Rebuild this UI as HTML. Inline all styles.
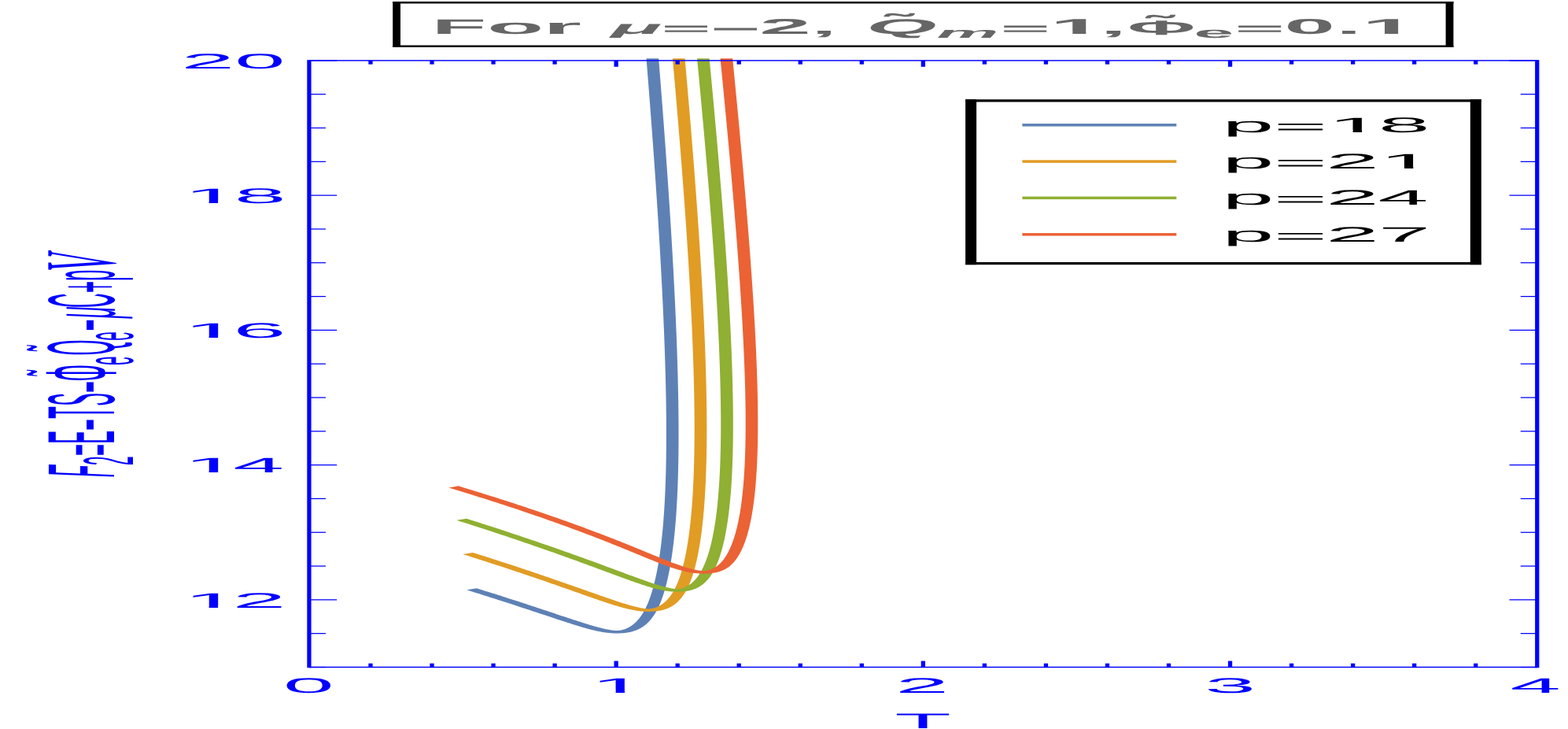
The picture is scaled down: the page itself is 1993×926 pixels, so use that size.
<!DOCTYPE html>
<html lang="en">
<head>
<meta charset="utf-8">
<title>Free energy versus temperature</title>
<style>
html,body{margin:0;padding:0;background:#ffffff;}
body{width:1993px;height:926px;overflow:hidden;}
svg{display:block;}
text{white-space:pre;}
</style>
</head>
<body>
<svg width="1993" height="926" viewBox="0 0 1993 926">
<defs><clipPath id="plotclip"><rect x="372.95" y="74.3" width="1600.8" height="776.18"/></clipPath></defs>
<rect width="1993" height="926" fill="#ffffff"/>
<g clip-path="url(#plotclip)"><g transform="scale(4.457,1)" stroke="none" fill-rule="nonzero">
<path fill="#5e81b5" d="M133.106 749.33L133.982 750.54L134.845 751.73L135.694 752.92L136.531 754.09L137.356 755.24L138.168 756.39L138.968 757.51L139.755 758.63L140.531 759.73L141.294 760.82L142.046 761.89L142.786 762.95L143.514 764L144.232 765.04L144.937 766.06L145.632 767.06L146.315 768.05L146.988 769.03L147.65 770L148.301 770.95L148.941 771.89L149.572 772.81L150.191 773.73L150.801 774.62L151.401 775.51L151.99 776.38L152.57 777.24L153.141 778.08L153.701 778.91L154.253 779.73L154.795 780.53L155.328 781.32L155.851 782.09L156.366 782.86L156.873 783.61L157.37 784.34L157.859 785.06L158.34 785.77L158.812 786.47L159.277 787.15L159.733 787.82L160.182 788.47L160.622 789.11L161.056 789.74L161.482 790.36L161.9 790.96L162.312 791.55L162.716 792.12L163.113 792.68L163.504 793.23L163.889 793.77L164.266 794.29L164.638 794.8L165.003 795.29L165.363 795.77L165.717 796.24L166.065 796.7L166.408 797.14L166.745 797.57L167.077 797.99L167.405 798.39L167.728 798.79L168.046 799.17L168.36 799.53L168.67 799.89L168.976 800.23L169.279 800.55L169.578 800.87L169.875 801.17L170.169 801.47L170.46 801.74L170.75 802.01L171.038 802.27L171.326 802.51L171.612 802.74L171.899 802.95L172.186 803.16L172.474 803.35L172.764 803.53L173.055 803.7L173.35 803.85L173.648 803.99L173.949 804.11L174.255 804.22L174.564 804.32L174.878 804.39L175.196 804.45L175.516 804.48L175.838 804.5L176.161 804.49L176.483 804.47L176.803 804.42L177.118 804.35L177.428 804.26L177.732 804.15L178.028 804.02L178.315 803.88L178.593 803.71L178.862 803.53L179.123 803.34L179.374 803.13L179.617 802.91L179.853 802.68L180.081 802.43L180.302 802.17L180.516 801.9L180.725 801.62L180.929 801.33L181.127 801.03L181.32 800.71L181.51 800.38L181.695 800.04L181.876 799.69L182.054 799.33L182.229 798.95L182.4 798.56L182.569 798.17L182.735 797.75L182.898 797.33L183.059 796.89L183.217 796.44L183.373 795.98L183.526 795.51L183.678 795.02L183.827 794.52L183.974 794.01L184.12 793.49L184.263 792.95L184.405 792.4L184.544 791.83L184.682 791.26L184.819 790.67L184.953 790.06L185.086 789.45L185.217 788.82L185.346 788.17L185.474 787.52L185.601 786.85L185.726 786.17L185.849 785.47L185.971 784.76L186.091 784.04L186.21 783.31L186.328 782.56L186.444 781.79L186.558 781.02L186.672 780.23L186.784 779.43L186.894 778.61L187.004 777.78L187.112 776.94L187.219 776.08L187.324 775.21L187.428 774.33L187.531 773.44L187.633 772.53L187.734 771.6L187.833 770.66L187.932 769.71L188.029 768.75L188.125 767.77L188.22 766.78L188.314 765.78L188.406 764.76L188.498 763.73L188.589 762.68L188.678 761.62L188.767 760.55L188.854 759.47L188.941 758.37L189.026 757.25L189.111 756.13L189.194 754.99L189.277 753.83L189.358 752.66L189.439 751.48L189.519 750.29L189.598 749.08L189.676 747.86L189.753 746.62L189.83 745.38L189.905 744.11L189.98 742.84L190.054 741.55L190.127 740.24L190.199 738.93L190.271 737.6L190.341 736.25L190.411 734.9L190.48 733.52L190.548 732.14L190.615 730.74L190.682 729.33L190.748 727.9L190.813 726.46L190.877 725.01L190.94 723.54L191.002 722.06L191.064 720.57L191.125 719.06L191.185 717.54L191.244 716L191.303 714.46L191.361 712.89L191.417 711.32L191.474 709.73L191.529 708.13L191.583 706.51L191.637 704.88L191.69 703.23L191.742 701.58L191.794 699.91L191.844 698.22L191.894 696.52L191.943 694.81L191.991 693.08L192.039 691.34L192.085 689.59L192.131 687.82L192.176 686.04L192.221 684.25L192.264 682.44L192.307 680.62L192.349 678.79L192.391 676.94L192.431 675.07L192.471 673.2L192.51 671.31L192.548 669.41L192.586 667.49L192.622 665.56L192.658 663.61L192.693 661.66L192.728 659.68L192.762 657.7L192.795 655.7L192.827 653.69L192.858 651.66L192.889 649.62L192.919 647.57L192.948 645.5L192.977 643.42L193.004 641.33L193.031 639.22L193.058 637.1L193.083 634.96L193.108 632.81L193.132 630.65L193.155 628.47L193.178 626.28L193.2 624.08L193.221 621.86L193.241 619.63L193.261 617.39L193.28 615.13L193.298 612.86L193.315 610.57L193.332 608.27L193.348 605.96L193.364 603.63L193.378 601.29L193.392 598.94L193.405 596.57L193.418 594.19L193.429 591.8L193.44 589.39L193.451 586.96L193.46 584.53L193.469 582.08L193.478 579.62L193.485 577.14L193.492 574.65L193.498 572.15L193.503 569.63L193.508 567.1L193.512 564.55L193.515 561.99L193.518 559.42L193.52 556.83L193.521 554.23L193.522 551.62L193.521 548.99L193.521 546.35L193.519 543.7L193.517 541.03L193.514 538.35L193.51 535.65L193.506 532.95L193.501 530.22L193.496 527.49L193.489 524.74L193.482 521.97L193.475 519.2L193.466 516.41L193.457 513.6L193.448 510.78L193.437 507.95L193.426 505.11L193.415 502.25L193.402 499.37L193.389 496.49L193.376 493.59L193.361 490.67L193.346 487.75L193.331 484.8L193.314 481.85L193.297 478.88L193.28 475.9L193.262 472.9L193.243 469.89L193.223 466.87L193.203 463.83L193.182 460.78L193.161 457.72L193.138 454.64L193.116 451.55L193.092 448.45L193.068 445.33L193.043 442.19L193.018 439.05L192.992 435.89L192.965 432.72L192.938 429.53L192.91 426.33L192.882 423.11L192.853 419.89L192.823 416.64L192.792 413.39L192.761 410.12L192.73 406.84L192.697 403.54L192.664 400.23L192.631 396.91L192.597 393.57L192.562 390.22L192.527 386.85L192.491 383.48L192.454 380.08L192.417 376.68L192.379 373.26L192.34 369.83L192.301 366.38L192.262 362.92L192.221 359.45L192.18 355.96L192.139 352.46L192.097 348.94L192.054 345.41L192.011 341.87L191.967 338.32L191.923 334.75L191.878 331.16L191.832 327.57L191.786 323.96L191.739 320.33L191.691 316.69L191.643 313.04L191.595 309.38L191.545 305.7L191.496 302.01L191.445 298.3L191.394 294.58L191.343 290.85L191.291 287.1L191.238 283.34L191.185 279.56L191.131 275.78L191.076 271.97L191.021 268.16L190.966 264.33L190.91 260.49L190.853 256.63L190.796 252.76L190.738 248.88L190.679 244.98L190.62 241.07L190.561 237.14L190.501 233.2L190.44 229.25L190.379 225.29L190.317 221.31L190.255 217.31L190.192 213.31L190.129 209.29L190.065 205.25L190 201.21L189.935 197.14L189.869 193.07L189.803 188.98L189.737 184.88L189.669 180.76L189.602 176.63L189.533 172.49L189.464 168.33L189.395 164.16L189.325 159.98L189.254 155.78L189.183 151.57L189.112 147.34L189.04 143.1L188.967 138.85L188.894 134.59L188.82 130.31L188.746 126.01L188.671 121.7L188.596 117.38L188.52 113.05L188.444 108.7L188.367 104.34L188.29 99.96L188.212 95.57L188.134 91.17L188.055 86.75L187.976 82.32L187.896 77.88L187.815 73.42L187.734 68.95L187.653 64.47L187.571 59.97L184.072 60.03L184.154 64.53L184.235 69.01L184.316 73.49L184.396 77.94L184.476 82.39L184.556 86.82L184.634 91.23L184.713 95.64L184.791 100.03L184.868 104.4L184.945 108.76L185.021 113.11L185.097 117.44L185.172 121.77L185.247 126.07L185.321 130.37L185.395 134.65L185.468 138.91L185.54 143.16L185.612 147.4L185.684 151.63L185.755 155.84L185.825 160.04L185.895 164.22L185.965 168.39L186.034 172.55L186.102 176.69L186.17 180.82L186.237 184.94L186.304 189.04L186.37 193.13L186.436 197.2L186.501 201.26L186.565 205.31L186.629 209.34L186.693 213.36L186.755 217.37L186.818 221.36L186.879 225.34L186.941 229.31L187.001 233.26L187.061 237.2L187.121 241.12L187.18 245.03L187.238 248.93L187.296 252.81L187.353 256.68L187.41 260.54L187.466 264.38L187.522 268.21L187.577 272.02L187.631 275.83L187.685 279.61L187.738 283.39L187.791 287.15L187.843 290.89L187.895 294.63L187.946 298.35L187.996 302.05L188.046 305.74L188.095 309.42L188.144 313.09L188.192 316.74L188.239 320.38L188.286 324L188.332 327.61L188.378 331.21L188.423 334.79L188.467 338.36L188.511 341.91L188.554 345.46L188.597 348.98L188.639 352.5L188.681 356L188.722 359.49L188.762 362.96L188.802 366.42L188.841 369.87L188.879 373.3L188.917 376.72L188.954 380.12L188.991 383.51L189.027 386.89L189.062 390.26L189.097 393.61L189.131 396.94L189.165 400.27L189.197 403.58L189.23 406.87L189.261 410.15L189.292 413.42L189.323 416.68L189.353 419.92L189.382 423.14L189.41 426.36L189.438 429.56L189.465 432.74L189.492 435.92L189.518 439.08L189.543 442.22L189.568 445.35L189.592 448.47L189.616 451.58L189.638 454.67L189.661 457.74L189.682 460.81L189.703 463.86L189.723 466.89L189.743 469.92L189.762 472.92L189.78 475.92L189.798 478.9L189.814 481.87L189.831 484.82L189.846 487.76L189.861 490.69L189.876 493.6L189.889 496.5L189.902 499.39L189.915 502.26L189.926 505.12L189.937 507.96L189.948 510.8L189.957 513.61L189.966 516.42L189.975 519.21L189.982 521.98L189.989 524.75L189.996 527.49L190.001 530.23L190.006 532.95L190.01 535.66L190.014 538.35L190.017 541.03L190.019 543.7L190.021 546.36L190.021 549L190.022 551.62L190.021 554.23L190.02 556.83L190.018 559.42L190.015 561.99L190.012 564.55L190.008 567.09L190.003 569.62L189.998 572.14L189.992 574.64L189.985 577.13L189.978 579.61L189.969 582.07L189.96 584.52L189.951 586.95L189.94 589.37L189.929 591.78L189.918 594.17L189.905 596.55L189.892 598.92L189.878 601.27L189.864 603.61L189.848 605.94L189.832 608.25L189.816 610.55L189.798 612.83L189.78 615.1L189.761 617.36L189.741 619.6L189.721 621.83L189.7 624.05L189.678 626.25L189.655 628.44L189.632 630.61L189.608 632.77L189.583 634.92L189.558 637.05L189.532 639.17L189.505 641.28L189.477 643.37L189.448 645.45L189.419 647.52L189.389 649.57L189.359 651.61L189.327 653.63L189.295 655.64L189.262 657.64L189.228 659.62L189.194 661.59L189.159 663.55L189.123 665.49L189.086 667.42L189.049 669.34L189.011 671.24L188.972 673.13L188.932 675L188.891 676.86L188.85 678.71L188.808 680.54L188.765 682.36L188.722 684.16L188.678 685.96L188.632 687.73L188.587 689.5L188.54 691.25L188.493 692.99L188.444 694.71L188.395 696.42L188.346 698.12L188.295 699.8L188.244 701.47L188.192 703.12L188.139 704.76L188.085 706.39L188.031 708.01L187.976 709.61L187.92 711.19L187.863 712.77L187.805 714.33L187.747 715.87L187.688 717.4L187.628 718.92L187.567 720.43L187.505 721.92L187.443 723.39L187.38 724.86L187.316 726.31L187.251 727.74L187.186 729.17L187.119 730.57L187.052 731.97L186.984 733.35L186.915 734.72L186.846 736.07L186.775 737.41L186.704 738.74L186.632 740.05L186.559 741.35L186.486 742.64L186.411 743.91L186.336 745.16L186.26 746.41L186.183 747.64L186.105 748.86L186.027 750.06L185.947 751.25L185.867 752.42L185.785 753.59L185.703 754.73L185.62 755.87L185.536 756.99L185.451 758.09L185.365 759.19L185.278 760.27L185.19 761.33L185.101 762.38L185.011 763.42L184.92 764.45L184.828 765.46L184.735 766.45L184.641 767.43L184.546 768.4L184.45 769.36L184.352 770.3L184.254 771.23L184.154 772.14L184.054 773.04L183.952 773.93L183.849 774.8L183.745 775.66L183.639 776.5L183.533 777.33L183.425 778.15L183.316 778.95L183.206 779.74L183.095 780.51L182.982 781.28L182.869 782.02L182.754 782.76L182.637 783.47L182.52 784.18L182.401 784.87L182.281 785.55L182.16 786.21L182.037 786.86L181.913 787.49L181.788 788.11L181.662 788.72L181.534 789.31L181.405 789.89L181.275 790.46L181.144 791.01L181.011 791.54L180.877 792.06L180.742 792.57L180.606 793.06L180.468 793.54L180.33 794L180.19 794.45L180.05 794.88L179.908 795.3L179.766 795.71L179.622 796.1L179.478 796.47L179.333 796.83L179.188 797.18L179.042 797.51L178.896 797.82L178.749 798.12L178.603 798.4L178.457 798.67L178.312 798.92L178.167 799.16L178.023 799.38L177.881 799.58L177.741 799.77L177.602 799.95L177.467 800.1L177.335 800.25L177.206 800.38L177.082 800.49L176.962 800.59L176.847 800.67L176.737 800.75L176.632 800.81L176.532 800.86L176.437 800.9L176.346 800.93L176.257 800.96L176.17 800.98L176.082 800.99L175.993 801L175.901 801L175.804 800.99L175.701 800.98L175.59 800.96L175.471 800.93L175.342 800.9L175.204 800.85L175.056 800.79L174.898 800.71L174.731 800.63L174.555 800.53L174.37 800.41L174.177 800.28L173.975 800.14L173.766 799.98L173.549 799.8L173.325 799.62L173.093 799.41L172.855 799.19L172.61 798.96L172.359 798.71L172.101 798.44L171.836 798.17L171.565 797.87L171.288 797.56L171.005 797.24L170.715 796.9L170.418 796.55L170.116 796.18L169.807 795.8L169.491 795.4L169.169 794.99L168.841 794.57L168.506 794.13L168.164 793.67L167.815 793.21L167.46 792.72L167.097 792.23L166.728 791.72L166.351 791.19L165.967 790.65L165.576 790.1L165.177 789.54L164.77 788.95L164.357 788.36L163.935 787.75L163.505 787.13L163.068 786.49L162.622 785.84L162.168 785.18L161.706 784.5L161.235 783.81L160.756 783.1L160.268 782.38L159.772 781.64L159.266 780.9L158.752 780.14L158.228 779.36L157.696 778.57L157.153 777.77L156.602 776.95L156.041 776.12L155.47 775.27L154.889 774.42L154.298 773.54L153.697 772.66L153.086 771.76L152.465 770.84L151.833 769.92L151.191 768.98L150.538 768.02L149.874 767.05L149.199 766.07L148.514 765.08L147.817 764.07L147.108 763.04L146.389 762L145.658 760.95L144.915 759.89L144.16 758.81L143.394 757.72L142.616 756.61L141.825 755.49L141.022 754.36L140.207 753.21L139.379 752.05L138.539 750.88L137.686 749.69L136.82 748.49L135.942 747.27Z"/>
<path fill="#e19c24" d="M131.962 703.92L132.976 705.34L133.975 706.74L134.961 708.14L135.932 709.51L136.89 710.88L137.834 712.23L138.765 713.56L139.683 714.88L140.587 716.19L141.478 717.48L142.357 718.76L143.222 720.03L144.075 721.28L144.915 722.51L145.743 723.74L146.558 724.94L147.361 726.14L148.152 727.32L148.931 728.48L149.699 729.64L150.454 730.77L151.198 731.9L151.93 733.01L152.651 734.1L153.361 735.18L154.059 736.25L154.747 737.31L155.423 738.34L156.089 739.37L156.745 740.38L157.389 741.38L158.024 742.36L158.648 743.33L159.262 744.28L159.865 745.22L160.459 746.15L161.044 747.06L161.618 747.96L162.183 748.85L162.739 749.72L163.285 750.57L163.822 751.42L164.35 752.24L164.869 753.06L165.38 753.86L165.881 754.65L166.374 755.42L166.859 756.18L167.336 756.92L167.804 757.65L168.264 758.37L168.717 759.07L169.161 759.76L169.598 760.44L170.028 761.1L170.45 761.74L170.865 762.38L171.273 763L171.674 763.6L172.068 764.2L172.455 764.77L172.836 765.34L173.21 765.89L173.579 766.43L173.941 766.95L174.297 767.46L174.647 767.96L174.992 768.44L175.331 768.91L175.665 769.37L175.994 769.81L176.318 770.24L176.637 770.65L176.952 771.05L177.262 771.44L177.568 771.82L177.87 772.18L178.169 772.53L178.464 772.87L178.756 773.19L179.046 773.51L179.333 773.8L179.618 774.09L179.901 774.36L180.183 774.62L180.464 774.87L180.744 775.11L181.026 775.33L181.307 775.54L181.591 775.74L181.876 775.92L182.164 776.09L182.456 776.25L182.751 776.39L183.051 776.52L183.356 776.63L183.666 776.72L183.981 776.8L184.3 776.85L184.622 776.89L184.947 776.9L185.272 776.89L185.596 776.86L185.916 776.8L186.232 776.72L186.541 776.62L186.842 776.5L187.134 776.36L187.417 776.21L187.69 776.03L187.953 775.84L188.207 775.64L188.451 775.42L188.687 775.19L188.915 774.94L189.135 774.68L189.349 774.42L189.556 774.14L189.758 773.84L189.954 773.54L190.146 773.22L190.333 772.89L190.515 772.55L190.694 772.2L190.869 771.84L191.041 771.46L191.21 771.07L191.376 770.67L191.539 770.25L191.699 769.83L191.857 769.39L192.012 768.93L192.165 768.47L192.316 767.99L192.465 767.5L192.611 766.99L192.756 766.47L192.898 765.94L193.039 765.39L193.177 764.84L193.314 764.26L193.449 763.68L193.582 763.08L193.714 762.47L193.844 761.84L193.972 761.2L194.099 760.54L194.224 759.88L194.347 759.2L194.469 758.5L194.589 757.79L194.708 757.07L194.825 756.33L194.941 755.58L195.056 754.82L195.169 754.04L195.28 753.25L195.39 752.44L195.499 751.63L195.607 750.79L195.713 749.94L195.818 749.08L195.921 748.21L196.024 747.32L196.124 746.42L196.224 745.5L196.323 744.57L196.42 743.62L196.516 742.66L196.611 741.69L196.704 740.7L196.797 739.7L196.888 738.69L196.978 737.66L197.067 736.62L197.155 735.56L197.242 734.49L197.328 733.4L197.413 732.3L197.496 731.19L197.579 730.06L197.66 728.92L197.741 727.77L197.82 726.6L197.899 725.41L197.977 724.22L198.053 723.01L198.129 721.78L198.203 720.54L198.277 719.29L198.35 718.02L198.422 716.74L198.493 715.44L198.563 714.13L198.632 712.81L198.701 711.47L198.768 710.12L198.835 708.75L198.901 707.37L198.966 705.97L199.03 704.56L199.094 703.14L199.156 701.7L199.218 700.25L199.279 698.79L199.339 697.31L199.398 695.81L199.457 694.31L199.514 692.79L199.571 691.25L199.627 689.7L199.682 688.14L199.736 686.56L199.789 684.96L199.842 683.36L199.894 681.74L199.945 680.1L199.995 678.45L200.044 676.79L200.093 675.11L200.14 673.42L200.187 671.72L200.233 670L200.278 668.26L200.323 666.52L200.366 664.75L200.409 662.98L200.451 661.19L200.492 659.38L200.533 657.57L200.572 655.73L200.611 653.89L200.649 652.03L200.686 650.15L200.723 648.26L200.758 646.36L200.793 644.44L200.827 642.51L200.86 640.56L200.893 638.6L200.924 636.63L200.955 634.64L200.985 632.64L201.014 630.62L201.043 628.59L201.07 626.55L201.097 624.49L201.123 622.42L201.149 620.33L201.173 618.23L201.197 616.11L201.22 613.98L201.242 611.84L201.263 609.68L201.284 607.51L201.304 605.33L201.323 603.13L201.341 600.91L201.359 598.68L201.376 596.44L201.392 594.18L201.407 591.91L201.421 589.63L201.435 587.33L201.448 585.02L201.46 582.69L201.471 580.35L201.482 577.99L201.492 575.62L201.501 573.24L201.509 570.84L201.517 568.43L201.524 566L201.53 563.56L201.535 561.11L201.54 558.64L201.544 556.15L201.547 553.66L201.549 551.15L201.551 548.62L201.552 546.08L201.552 543.53L201.551 540.96L201.55 538.38L201.548 535.78L201.545 533.17L201.541 530.55L201.537 527.91L201.532 525.26L201.526 522.59L201.519 519.91L201.512 517.21L201.504 514.5L201.495 511.78L201.486 509.04L201.476 506.29L201.465 503.53L201.453 500.75L201.441 497.95L201.428 495.14L201.414 492.32L201.399 489.48L201.384 486.63L201.368 483.77L201.351 480.89L201.334 478L201.316 475.09L201.297 472.17L201.277 469.23L201.257 466.28L201.236 463.32L201.214 460.34L201.192 457.35L201.169 454.34L201.145 451.32L201.121 448.29L201.095 445.24L201.069 442.18L201.043 439.1L201.015 436.01L200.987 432.9L200.959 429.78L200.929 426.65L200.899 423.5L200.868 420.34L200.837 417.17L200.804 413.98L200.771 410.77L200.738 407.55L200.704 404.32L200.669 401.07L200.633 397.81L200.596 394.54L200.559 391.25L200.522 387.95L200.483 384.63L200.444 381.3L200.404 377.95L200.364 374.59L200.323 371.22L200.281 367.83L200.239 364.43L200.195 361.01L200.152 357.58L200.107 354.13L200.062 350.68L200.016 347.2L199.969 343.72L199.922 340.21L199.874 336.7L199.826 333.17L199.777 329.62L199.727 326.07L199.676 322.49L199.625 318.91L199.573 315.31L199.521 311.69L199.468 308.07L199.414 304.42L199.359 300.77L199.304 297.09L199.248 293.41L199.192 289.71L199.135 286L199.077 282.27L199.019 278.53L198.96 274.77L198.9 271L198.84 267.22L198.779 263.42L198.717 259.61L198.655 255.78L198.592 251.94L198.529 248.08L198.464 244.21L198.4 240.33L198.334 236.43L198.268 232.52L198.201 228.6L198.134 224.66L198.066 220.7L197.997 216.73L197.928 212.75L197.858 208.75L197.788 204.74L197.717 200.72L197.645 196.68L197.573 192.63L197.5 188.56L197.426 184.48L197.352 180.38L197.277 176.27L197.201 172.15L197.125 168.01L197.049 163.86L196.971 159.69L196.893 155.51L196.815 151.32L196.736 147.11L196.656 142.89L196.576 138.65L196.495 134.4L196.413 130.13L196.331 125.85L196.248 121.56L196.165 117.25L196.081 112.93L195.996 108.59L195.911 104.24L195.825 99.88L195.739 95.5L195.652 91.11L195.564 86.7L195.476 82.28L195.387 77.85L195.298 73.4L195.208 68.93L195.117 64.46L195.026 59.96L191.527 60.04L191.618 64.53L191.708 69L191.798 73.47L191.888 77.92L191.976 82.35L192.065 86.77L192.152 91.18L192.239 95.57L192.326 99.95L192.411 104.31L192.497 108.66L192.581 113L192.665 117.32L192.749 121.63L192.831 125.92L192.914 130.2L192.995 134.47L193.076 138.72L193.157 142.95L193.236 147.18L193.315 151.38L193.394 155.58L193.472 159.76L193.549 163.92L193.626 168.08L193.702 172.21L193.777 176.34L193.852 180.45L193.927 184.54L194 188.62L194.073 192.69L194.145 196.74L194.217 200.78L194.288 204.81L194.359 208.82L194.429 212.81L194.498 216.79L194.566 220.76L194.634 224.72L194.702 228.66L194.769 232.58L194.835 236.49L194.9 240.39L194.965 244.27L195.029 248.14L195.093 252L195.155 255.84L195.218 259.66L195.279 263.47L195.34 267.27L195.401 271.06L195.46 274.83L195.519 278.58L195.578 282.32L195.635 286.05L195.692 289.76L195.749 293.46L195.805 297.15L195.86 300.82L195.914 304.47L195.968 308.12L196.021 311.74L196.074 315.36L196.125 318.96L196.177 322.54L196.227 326.12L196.277 329.67L196.326 333.22L196.375 336.75L196.423 340.26L196.47 343.76L196.516 347.25L196.562 350.72L196.607 354.18L196.652 357.62L196.696 361.05L196.739 364.47L196.781 367.87L196.823 371.26L196.864 374.63L196.905 377.99L196.944 381.34L196.984 384.67L197.022 387.99L197.06 391.29L197.097 394.58L197.133 397.85L197.169 401.11L197.204 404.36L197.238 407.59L197.272 410.81L197.305 414.01L197.337 417.2L197.368 420.38L197.399 423.54L197.429 426.68L197.459 429.82L197.487 432.94L197.515 436.04L197.543 439.13L197.569 442.21L197.595 445.27L197.621 448.32L197.645 451.35L197.669 454.37L197.692 457.38L197.715 460.37L197.736 463.34L197.757 466.31L197.777 469.26L197.797 472.19L197.816 475.11L197.834 478.02L197.851 480.91L197.868 483.79L197.884 486.65L197.899 489.5L197.914 492.34L197.928 495.16L197.941 497.97L197.953 500.76L197.965 503.54L197.976 506.3L197.986 509.06L197.995 511.79L198.004 514.51L198.012 517.22L198.02 519.92L198.026 522.6L198.032 525.26L198.037 527.91L198.041 530.55L198.045 533.18L198.048 535.78L198.05 538.38L198.051 540.96L198.052 543.53L198.052 546.08L198.051 548.62L198.049 551.14L198.047 553.65L198.044 556.15L198.04 558.63L198.035 561.1L198.03 563.55L198.024 565.99L198.017 568.42L198.009 570.83L198.001 573.22L197.992 575.61L197.982 577.98L197.971 580.33L197.96 582.67L197.948 585L197.935 587.31L197.921 589.61L197.907 591.89L197.892 594.16L197.876 596.41L197.859 598.66L197.841 600.88L197.823 603.1L197.804 605.29L197.784 607.48L197.764 609.65L197.742 611.81L197.72 613.95L197.697 616.08L197.673 618.19L197.649 620.29L197.624 622.37L197.597 624.44L197.571 626.5L197.543 628.54L197.515 630.57L197.485 632.59L197.455 634.59L197.425 636.57L197.393 638.55L197.361 640.5L197.327 642.45L197.294 644.38L197.259 646.29L197.223 648.19L197.187 650.08L197.15 651.95L197.112 653.81L197.073 655.66L197.034 657.49L196.993 659.31L196.952 661.11L196.91 662.9L196.867 664.67L196.824 666.43L196.78 668.17L196.734 669.91L196.688 671.62L196.642 673.33L196.594 675.01L196.546 676.69L196.496 678.35L196.446 680L196.395 681.63L196.344 683.25L196.291 684.85L196.238 686.44L196.184 688.01L196.129 689.57L196.073 691.12L196.017 692.65L195.959 694.17L195.901 695.68L195.842 697.17L195.782 698.64L195.721 700.11L195.66 701.55L195.597 702.99L195.534 704.41L195.47 705.81L195.405 707.2L195.339 708.58L195.273 709.94L195.205 711.29L195.137 712.63L195.068 713.95L194.998 715.25L194.927 716.54L194.856 717.82L194.783 719.08L194.71 720.33L194.635 721.57L194.56 722.79L194.484 723.99L194.406 725.19L194.328 726.36L194.249 727.53L194.169 728.68L194.088 729.81L194.006 730.93L193.923 732.04L193.839 733.13L193.753 734.21L193.667 735.27L193.58 736.32L193.491 737.36L193.402 738.38L193.311 739.39L193.22 740.38L193.127 741.36L193.033 742.32L192.938 743.27L192.842 744.21L192.744 745.13L192.646 746.03L192.546 746.93L192.445 747.8L192.343 748.67L192.239 749.52L192.135 750.35L192.029 751.17L191.922 751.98L191.813 752.77L191.704 753.55L191.593 754.31L191.481 755.06L191.368 755.79L191.253 756.51L191.137 757.22L191.02 757.91L190.901 758.58L190.781 759.24L190.66 759.89L190.538 760.52L190.414 761.14L190.289 761.74L190.163 762.33L190.035 762.9L189.907 763.46L189.777 764.01L189.645 764.54L189.513 765.05L189.379 765.55L189.244 766.03L189.108 766.5L188.971 766.96L188.833 767.4L188.694 767.82L188.554 768.23L188.413 768.62L188.272 769L188.129 769.36L187.986 769.71L187.843 770.04L187.7 770.35L187.556 770.65L187.413 770.93L187.269 771.2L187.127 771.45L186.985 771.68L186.845 771.9L186.707 772.1L186.57 772.29L186.437 772.46L186.306 772.61L186.179 772.74L186.057 772.86L185.939 772.97L185.827 773.06L185.72 773.14L185.619 773.2L185.525 773.26L185.436 773.3L185.352 773.33L185.272 773.36L185.194 773.38L185.118 773.39L185.041 773.4L184.961 773.4L184.876 773.4L184.785 773.39L184.686 773.37L184.579 773.34L184.461 773.31L184.333 773.26L184.194 773.2L184.046 773.13L183.887 773.05L183.719 772.95L183.541 772.83L183.355 772.7L183.16 772.56L182.958 772.4L182.747 772.22L182.53 772.03L182.305 771.82L182.073 771.6L181.835 771.36L181.59 771.1L181.338 770.83L181.081 770.55L180.817 770.24L180.547 769.93L180.27 769.6L179.988 769.25L179.699 768.89L179.404 768.51L179.103 768.12L178.795 767.71L178.482 767.29L178.161 766.85L177.835 766.4L177.501 765.93L177.161 765.45L176.815 764.95L176.462 764.44L176.101 763.92L175.734 763.38L175.36 762.82L174.979 762.25L174.59 761.67L174.194 761.07L173.791 760.46L173.38 759.83L172.961 759.19L172.535 758.53L172.101 757.86L171.659 757.18L171.208 756.48L170.75 755.76L170.283 755.03L169.808 754.29L169.324 753.53L168.832 752.76L168.331 751.98L167.82 751.18L167.301 750.36L166.773 749.53L166.236 748.69L165.689 747.83L165.133 746.96L164.567 746.08L163.992 745.18L163.407 744.26L162.811 743.33L162.206 742.39L161.591 741.43L160.965 740.46L160.329 739.48L159.683 738.48L159.025 737.46L158.358 736.44L157.679 735.39L156.989 734.34L156.288 733.27L155.576 732.18L154.853 731.08L154.118 729.97L153.371 728.84L152.613 727.7L151.843 726.54L151.061 725.37L150.267 724.19L149.461 722.99L148.643 721.78L147.812 720.55L146.968 719.31L146.112 718.05L145.244 716.78L144.362 715.5L143.467 714.2L142.559 712.89L141.638 711.56L140.704 710.22L139.756 708.87L138.794 707.5L137.819 706.12L136.83 704.72L135.827 703.31L134.811 701.88Z"/>
<path fill="#8fb032" d="M130.218 660.81L131.362 662.42L132.489 664.02L133.601 665.6L134.699 667.17L135.782 668.72L136.85 670.26L137.904 671.78L138.944 673.29L139.969 674.79L140.98 676.27L141.978 677.73L142.961 679.18L143.931 680.62L144.887 682.04L145.83 683.45L146.759 684.84L147.675 686.22L148.578 687.58L149.468 688.93L150.345 690.26L151.209 691.58L152.06 692.89L152.899 694.18L153.726 695.45L154.54 696.71L155.342 697.96L156.132 699.19L156.91 700.41L157.677 701.61L158.431 702.8L159.174 703.98L159.906 705.14L160.626 706.28L161.335 707.41L162.033 708.53L162.72 709.63L163.396 710.72L164.061 711.79L164.716 712.85L165.36 713.89L165.994 714.92L166.617 715.94L167.231 716.94L167.834 717.92L168.428 718.89L169.011 719.85L169.585 720.79L170.15 721.72L170.705 722.63L171.251 723.53L171.788 724.42L172.315 725.29L172.834 726.14L173.344 726.99L173.846 727.81L174.338 728.63L174.823 729.42L175.299 730.21L175.767 730.98L176.226 731.73L176.678 732.47L177.122 733.2L177.559 733.91L177.988 734.61L178.409 735.29L178.824 735.96L179.231 736.62L179.631 737.26L180.024 737.88L180.41 738.49L180.79 739.09L181.164 739.68L181.531 740.25L181.892 740.8L182.246 741.34L182.595 741.87L182.939 742.38L183.276 742.88L183.609 743.37L183.936 743.84L184.258 744.3L184.575 744.74L184.887 745.17L185.195 745.59L185.498 745.99L185.798 746.38L186.093 746.76L186.385 747.12L186.674 747.47L186.959 747.81L187.242 748.13L187.522 748.44L187.8 748.73L188.077 749.02L188.352 749.29L188.626 749.55L188.9 749.79L189.175 750.02L189.45 750.24L189.727 750.45L190.007 750.64L190.289 750.82L190.575 750.99L190.866 751.14L191.162 751.28L191.463 751.39L191.771 751.5L192.084 751.58L192.403 751.64L192.725 751.68L193.051 751.7L193.378 751.69L193.704 751.66L194.027 751.61L194.344 751.53L194.654 751.43L194.956 751.31L195.247 751.16L195.529 751L195.799 750.82L196.059 750.63L196.309 750.42L196.55 750.2L196.781 749.96L197.004 749.71L197.22 749.45L197.429 749.18L197.631 748.89L197.828 748.6L198.019 748.29L198.205 747.96L198.388 747.63L198.566 747.28L198.74 746.93L198.911 746.55L199.078 746.17L199.243 745.77L199.405 745.36L199.563 744.94L199.72 744.51L199.874 744.06L200.025 743.59L200.175 743.12L200.322 742.63L200.467 742.13L200.61 741.61L200.751 741.08L200.89 740.53L201.028 739.98L201.163 739.41L201.297 738.82L201.429 738.22L201.559 737.61L201.688 736.98L201.815 736.34L201.941 735.68L202.065 735.01L202.187 734.33L202.308 733.63L202.428 732.92L202.546 732.19L202.662 731.45L202.777 730.7L202.891 729.93L203.003 729.14L203.114 728.35L203.224 727.54L203.332 726.71L203.439 725.87L203.545 725.01L203.649 724.14L203.753 723.26L203.855 722.36L203.955 721.45L204.055 720.52L204.153 719.58L204.25 718.63L204.346 717.66L204.441 716.67L204.535 715.67L204.627 714.66L204.718 713.63L204.809 712.59L204.898 711.54L204.986 710.46L205.073 709.38L205.159 708.28L205.244 707.17L205.328 706.04L205.411 704.89L205.494 703.74L205.575 702.56L205.655 701.38L205.734 700.18L205.812 698.96L205.889 697.73L205.965 696.48L206.04 695.23L206.115 693.95L206.188 692.66L206.26 691.36L206.331 690.04L206.402 688.71L206.471 687.37L206.54 686L206.607 684.63L206.674 683.24L206.739 681.84L206.804 680.42L206.867 678.98L206.93 677.53L206.992 676.07L207.053 674.6L207.113 673.1L207.172 671.6L207.23 670.08L207.287 668.54L207.343 666.99L207.398 665.43L207.452 663.85L207.506 662.26L207.558 660.65L207.61 659.03L207.66 657.39L207.71 655.74L207.759 654.07L207.806 652.39L207.853 650.7L207.899 648.99L207.944 647.26L207.988 645.52L208.032 643.77L208.074 642L208.115 640.22L208.156 638.42L208.196 636.61L208.234 634.78L208.272 632.94L208.309 631.09L208.345 629.22L208.38 627.34L208.414 625.44L208.448 623.52L208.48 621.6L208.512 619.65L208.542 617.7L208.572 615.72L208.601 613.74L208.629 611.74L208.656 609.72L208.683 607.69L208.708 605.65L208.732 603.59L208.756 601.52L208.779 599.43L208.801 597.33L208.822 595.21L208.842 593.08L208.861 590.93L208.88 588.77L208.897 586.59L208.914 584.4L208.93 582.2L208.945 579.98L208.959 577.75L208.972 575.5L208.985 573.24L208.997 570.96L209.007 568.67L209.017 566.36L209.026 564.04L209.035 561.7L209.042 559.35L209.049 556.99L209.054 554.61L209.059 552.22L209.063 549.81L209.066 547.39L209.069 544.95L209.07 542.5L209.071 540.03L209.071 537.55L209.07 535.05L209.068 532.54L209.066 530.02L209.062 527.48L209.058 524.93L209.053 522.36L209.047 519.77L209.041 517.18L209.033 514.56L209.025 511.94L209.016 509.3L209.006 506.64L208.995 503.97L208.984 501.29L208.972 498.59L208.958 495.87L208.945 493.14L208.93 490.4L208.914 487.64L208.898 484.87L208.881 482.08L208.863 479.28L208.845 476.47L208.825 473.64L208.805 470.79L208.784 467.93L208.762 465.06L208.74 462.17L208.717 459.26L208.692 456.35L208.668 453.41L208.642 450.47L208.616 447.5L208.588 444.53L208.561 441.54L208.532 438.53L208.502 435.51L208.472 432.48L208.441 429.43L208.409 426.37L208.377 423.29L208.344 420.19L208.31 417.09L208.275 413.97L208.239 410.83L208.203 407.68L208.166 404.51L208.128 401.33L208.09 398.14L208.051 394.93L208.011 391.7L207.97 388.47L207.928 385.21L207.886 381.95L207.843 378.66L207.8 375.37L207.755 372.06L207.71 368.73L207.664 365.39L207.618 362.03L207.57 358.66L207.522 355.28L207.474 351.88L207.424 348.47L207.374 345.04L207.323 341.6L207.272 338.14L207.219 334.67L207.166 331.18L207.113 327.68L207.058 324.17L207.003 320.64L206.947 317.1L206.891 313.54L206.833 309.96L206.775 306.37L206.717 302.77L206.657 299.16L206.597 295.52L206.537 291.88L206.475 288.22L206.413 284.54L206.35 280.85L206.287 277.15L206.223 273.43L206.158 269.69L206.092 265.95L206.026 262.18L205.959 258.41L205.892 254.61L205.824 250.81L205.755 246.99L205.685 243.15L205.615 239.3L205.544 235.44L205.472 231.56L205.4 227.66L205.327 223.75L205.254 219.83L205.18 215.89L205.105 211.94L205.029 207.97L204.953 203.99L204.876 200L204.799 195.99L204.721 191.96L204.642 187.92L204.562 183.87L204.482 179.8L204.402 175.72L204.32 171.62L204.238 167.51L204.156 163.38L204.072 159.24L203.989 155.08L203.904 150.91L203.819 146.73L203.733 142.53L203.647 138.31L203.56 134.08L203.472 129.84L203.384 125.58L203.295 121.31L203.205 117.02L203.115 112.72L203.024 108.4L202.933 104.07L202.841 99.73L202.749 95.37L202.655 90.99L202.562 86.6L202.467 82.2L202.372 77.78L202.277 73.35L202.18 68.9L202.084 64.44L201.986 59.96L198.487 60.04L198.584 64.51L198.681 68.98L198.777 73.42L198.873 77.86L198.968 82.27L199.062 86.68L199.156 91.07L199.249 95.44L199.342 99.8L199.434 104.15L199.525 108.48L199.616 112.79L199.706 117.09L199.796 121.38L199.884 125.65L199.973 129.91L200.06 134.15L200.147 138.38L200.234 142.6L200.32 146.8L200.405 150.98L200.489 155.15L200.573 159.31L200.656 163.45L200.739 167.58L200.821 171.69L200.902 175.79L200.983 179.87L201.063 183.94L201.142 187.99L201.221 192.03L201.299 196.05L201.377 200.06L201.454 204.06L201.53 208.04L201.605 212.01L201.68 215.96L201.754 219.9L201.828 223.82L201.901 227.73L201.973 231.62L202.045 235.5L202.116 239.36L202.186 243.21L202.255 247.05L202.324 250.87L202.392 254.68L202.46 258.47L202.527 262.24L202.593 266.01L202.658 269.75L202.723 273.49L202.787 277.21L202.851 280.91L202.914 284.6L202.976 288.28L203.037 291.94L203.098 295.58L203.158 299.21L203.217 302.83L203.276 306.43L203.334 310.02L203.391 313.59L203.448 317.15L203.503 320.69L203.559 324.22L203.613 327.74L203.667 331.24L203.72 334.72L203.772 338.19L203.824 341.65L203.875 345.09L203.925 348.52L203.974 351.93L204.023 355.33L204.071 358.71L204.118 362.08L204.165 365.44L204.211 368.78L204.256 372.1L204.3 375.41L204.344 378.71L204.387 381.99L204.429 385.26L204.47 388.51L204.511 391.75L204.551 394.97L204.59 398.18L204.629 401.37L204.666 404.55L204.703 407.72L204.74 410.87L204.775 414L204.81 417.13L204.844 420.23L204.877 423.32L204.91 426.4L204.941 429.46L204.972 432.51L205.003 435.55L205.032 438.57L205.061 441.57L205.089 444.56L205.116 447.54L205.142 450.5L205.168 453.44L205.193 456.38L205.217 459.29L205.24 462.19L205.263 465.08L205.284 467.96L205.305 470.82L205.325 473.66L205.345 476.49L205.363 479.3L205.381 482.11L205.398 484.89L205.415 487.66L205.43 490.42L205.445 493.16L205.459 495.89L205.472 498.6L205.484 501.3L205.495 503.98L205.506 506.65L205.516 509.31L205.525 511.95L205.533 514.58L205.541 517.19L205.547 519.78L205.553 522.36L205.558 524.93L205.562 527.48L205.566 530.02L205.568 532.55L205.57 535.06L205.571 537.55L205.571 540.03L205.57 542.5L205.569 544.95L205.566 547.38L205.563 549.8L205.559 552.21L205.554 554.6L205.549 556.98L205.542 559.34L205.535 561.69L205.526 564.03L205.517 566.35L205.507 568.65L205.497 570.94L205.485 573.22L205.473 575.48L205.459 577.73L205.445 579.96L205.43 582.18L205.414 584.38L205.397 586.57L205.38 588.74L205.361 590.9L205.342 593.04L205.322 595.17L205.301 597.29L205.279 599.39L205.256 601.48L205.233 603.55L205.208 605.61L205.183 607.65L205.157 609.68L205.129 611.69L205.101 613.69L205.073 615.67L205.043 617.64L205.012 619.6L204.981 621.54L204.948 623.46L204.915 625.37L204.881 627.27L204.846 629.15L204.81 631.02L204.773 632.87L204.735 634.71L204.696 636.54L204.657 638.34L204.616 640.14L204.575 641.92L204.533 643.68L204.489 645.44L204.445 647.17L204.4 648.89L204.355 650.6L204.308 652.29L204.26 653.97L204.211 655.63L204.162 657.28L204.111 658.92L204.06 660.54L204.008 662.14L203.954 663.73L203.9 665.31L203.845 666.87L203.789 668.41L203.732 669.95L203.674 671.46L203.615 672.97L203.556 674.45L203.495 675.93L203.433 677.39L203.371 678.83L203.307 680.26L203.243 681.67L203.177 683.07L203.111 684.46L203.044 685.83L202.976 687.19L202.907 688.53L202.836 689.86L202.765 691.17L202.693 692.47L202.62 693.75L202.546 695.02L202.472 696.27L202.396 697.51L202.319 698.74L202.241 699.95L202.162 701.14L202.083 702.32L202.002 703.49L201.92 704.64L201.838 705.78L201.754 706.9L201.67 708.01L201.584 709.1L201.498 710.18L201.41 711.24L201.322 712.29L201.232 713.33L201.141 714.35L201.049 715.35L200.957 716.34L200.863 717.32L200.768 718.28L200.671 719.22L200.574 720.16L200.476 721.07L200.376 721.97L200.276 722.86L200.174 723.73L200.071 724.59L199.967 725.43L199.861 726.26L199.755 727.07L199.647 727.87L199.538 728.66L199.428 729.42L199.316 730.18L199.203 730.92L199.089 731.64L198.974 732.35L198.858 733.04L198.74 733.72L198.621 734.39L198.501 735.03L198.38 735.67L198.257 736.29L198.133 736.89L198.008 737.48L197.882 738.05L197.754 738.61L197.625 739.16L197.496 739.68L197.364 740.2L197.232 740.69L197.099 741.17L196.964 741.64L196.829 742.09L196.692 742.53L196.555 742.94L196.417 743.35L196.278 743.74L196.138 744.11L195.998 744.46L195.858 744.8L195.717 745.12L195.576 745.43L195.435 745.72L195.294 745.99L195.155 746.25L195.016 746.49L194.878 746.71L194.743 746.92L194.609 747.1L194.478 747.28L194.351 747.43L194.228 747.57L194.109 747.69L193.995 747.79L193.888 747.88L193.787 747.96L193.693 748.02L193.605 748.07L193.525 748.11L193.45 748.14L193.38 748.16L193.313 748.18L193.248 748.19L193.183 748.2L193.114 748.2L193.04 748.2L192.959 748.19L192.869 748.17L192.769 748.14L192.659 748.1L192.537 748.06L192.405 748L192.261 747.92L192.107 747.83L191.943 747.73L191.77 747.61L191.588 747.47L191.397 747.32L191.198 747.15L190.992 746.97L190.779 746.77L190.558 746.55L190.331 746.32L190.097 746.07L189.856 745.8L189.609 745.52L189.356 745.22L189.097 744.91L188.832 744.58L188.561 744.23L188.284 743.87L188 743.5L187.711 743.1L187.415 742.7L187.113 742.27L186.805 741.84L186.491 741.38L186.17 740.91L185.843 740.43L185.51 739.93L185.17 739.42L184.823 738.89L184.469 738.34L184.109 737.79L183.742 737.21L183.367 736.62L182.986 736.02L182.597 735.4L182.201 734.76L181.798 734.12L181.387 733.45L180.968 732.77L180.542 732.08L180.107 731.37L179.665 730.65L179.215 729.91L178.756 729.16L178.29 728.39L177.814 727.61L177.331 726.81L176.838 726L176.337 725.17L175.827 724.33L175.308 723.47L174.78 722.6L174.243 721.72L173.697 720.82L173.141 719.9L172.575 718.97L172 718.03L171.415 717.07L170.82 716.1L170.215 715.11L169.6 714.11L168.975 713.09L168.339 712.06L167.693 711.01L167.036 709.95L166.369 708.87L165.691 707.78L165.002 706.68L164.301 705.56L163.59 704.42L162.867 703.27L162.133 702.11L161.388 700.93L160.63 699.74L159.861 698.53L159.08 697.31L158.287 696.07L157.482 694.82L156.665 693.55L155.835 692.27L154.993 690.98L154.138 689.67L153.271 688.34L152.391 687L151.497 685.65L150.591 684.28L149.672 682.9L148.739 681.5L147.793 680.09L146.833 678.66L145.86 677.22L144.873 675.76L143.872 674.29L142.857 672.81L141.828 671.31L140.784 669.79L139.727 668.27L138.654 666.72L137.568 665.16L136.466 663.59L135.35 662L134.218 660.4L133.073 658.79Z"/>
<path fill="#eb6235" d="M127.952 619.44L129.282 621.24L130.591 623.01L131.882 624.77L133.154 626.52L134.407 628.25L135.642 629.96L136.859 631.66L138.058 633.35L139.239 635.02L140.402 636.67L141.548 638.32L142.676 639.94L143.788 641.55L144.882 643.15L145.96 644.73L147.02 646.29L148.065 647.85L149.093 649.38L150.105 650.9L151.101 652.41L152.081 653.9L153.045 655.38L153.994 656.84L154.928 658.28L155.847 659.71L156.751 661.13L157.64 662.53L158.514 663.92L159.374 665.29L160.22 666.65L161.052 667.99L161.87 669.32L162.674 670.63L163.465 671.93L164.242 673.21L165.006 674.47L165.757 675.73L166.495 676.96L167.22 678.19L167.933 679.39L168.634 680.59L169.322 681.76L169.999 682.93L170.663 684.07L171.316 685.21L171.958 686.33L172.588 687.43L173.207 688.52L173.815 689.59L174.412 690.65L174.999 691.69L175.575 692.72L176.141 693.74L176.697 694.74L177.243 695.72L177.78 696.69L178.306 697.65L178.824 698.59L179.332 699.51L179.831 700.42L180.321 701.32L180.803 702.2L181.276 703.07L181.741 703.92L182.197 704.75L182.646 705.58L183.087 706.38L183.52 707.18L183.946 707.95L184.364 708.72L184.776 709.47L185.18 710.2L185.578 710.92L185.969 711.62L186.355 712.31L186.733 712.99L187.106 713.65L187.473 714.3L187.835 714.93L188.191 715.55L188.542 716.15L188.888 716.74L189.23 717.32L189.566 717.88L189.899 718.42L190.227 718.96L190.551 719.47L190.872 719.98L191.189 720.47L191.503 720.94L191.814 721.41L192.123 721.85L192.429 722.29L192.732 722.71L193.033 723.11L193.332 723.51L193.629 723.88L193.924 724.25L194.217 724.6L194.509 724.94L194.8 725.26L195.089 725.57L195.378 725.86L195.666 726.15L195.954 726.41L196.243 726.67L196.532 726.91L196.822 727.14L197.114 727.35L197.409 727.55L197.706 727.74L198.006 727.91L198.31 728.06L198.618 728.2L198.931 728.33L199.249 728.43L199.572 728.52L199.899 728.58L200.23 728.63L200.564 728.65L200.898 728.65L201.233 728.62L201.564 728.57L201.891 728.5L202.212 728.4L202.524 728.28L202.826 728.14L203.119 727.98L203.4 727.8L203.671 727.6L203.93 727.39L204.18 727.17L204.42 726.93L204.651 726.67L204.873 726.41L205.088 726.13L205.296 725.84L205.497 725.53L205.693 725.22L205.883 724.89L206.068 724.55L206.249 724.2L206.425 723.83L206.597 723.45L206.766 723.06L206.931 722.65L207.093 722.24L207.252 721.81L207.408 721.36L207.562 720.9L207.712 720.43L207.861 719.94L208.007 719.44L208.15 718.93L208.292 718.4L208.431 717.86L208.568 717.31L208.703 716.74L208.837 716.15L208.968 715.55L209.098 714.94L209.226 714.32L209.352 713.67L209.476 713.02L209.599 712.35L209.721 711.66L209.84 710.97L209.959 710.25L210.075 709.52L210.191 708.78L210.305 708.02L210.418 707.25L210.529 706.47L210.639 705.67L210.748 704.85L210.856 704.02L210.962 703.17L211.067 702.31L211.171 701.44L211.274 700.55L211.376 699.65L211.476 698.73L211.576 697.79L211.674 696.84L211.771 695.88L211.867 694.9L211.961 693.91L212.055 692.9L212.147 691.88L212.238 690.84L212.328 689.79L212.417 688.72L212.505 687.64L212.592 686.54L212.677 685.43L212.761 684.3L212.845 683.16L212.927 682.01L213.008 680.84L213.088 679.65L213.167 678.45L213.244 677.23L213.321 676L213.396 674.76L213.471 673.5L213.544 672.22L213.616 670.93L213.688 669.62L213.758 668.3L213.827 666.97L213.895 665.62L213.961 664.25L214.027 662.87L214.092 661.48L214.155 660.07L214.218 658.64L214.28 657.21L214.34 655.75L214.399 654.28L214.458 652.8L214.515 651.3L214.571 649.78L214.626 648.26L214.681 646.71L214.734 645.15L214.786 643.58L214.837 641.99L214.887 640.39L214.936 638.77L214.984 637.13L215.031 635.49L215.077 633.82L215.122 632.14L215.166 630.45L215.208 628.74L215.25 627.02L215.291 625.28L215.331 623.53L215.37 621.76L215.408 619.98L215.445 618.18L215.48 616.37L215.515 614.54L215.549 612.7L215.582 610.84L215.614 608.97L215.645 607.08L215.675 605.18L215.704 603.26L215.732 601.33L215.759 599.38L215.785 597.42L215.81 595.44L215.834 593.45L215.858 591.44L215.88 589.42L215.901 587.38L215.921 585.33L215.941 583.26L215.959 581.18L215.977 579.09L215.993 576.97L216.009 574.85L216.024 572.71L216.037 570.55L216.05 568.38L216.062 566.19L216.073 563.99L216.083 561.77L216.092 559.54L216.1 557.3L216.108 555.04L216.114 552.76L216.119 550.47L216.124 548.16L216.128 545.84L216.13 543.51L216.132 541.16L216.133 538.79L216.133 536.41L216.132 534.01L216.13 531.6L216.128 529.18L216.124 526.74L216.12 524.28L216.115 521.81L216.109 519.33L216.101 516.83L216.094 514.31L216.085 511.78L216.075 509.23L216.065 506.67L216.053 504.1L216.041 501.51L216.028 498.9L216.014 496.28L215.999 493.65L215.984 491L215.967 488.33L215.95 485.66L215.932 482.96L215.913 480.25L215.893 477.53L215.872 474.79L215.851 472.03L215.828 469.26L215.805 466.48L215.781 463.68L215.756 460.86L215.731 458.03L215.704 455.19L215.677 452.33L215.649 449.46L215.62 446.57L215.591 443.66L215.56 440.74L215.529 437.81L215.497 434.86L215.464 431.9L215.43 428.92L215.396 425.92L215.36 422.92L215.324 419.89L215.288 416.85L215.25 413.8L215.212 410.73L215.173 407.65L215.133 404.55L215.092 401.44L215.051 398.31L215.008 395.16L214.965 392.01L214.922 388.83L214.877 385.64L214.832 382.44L214.786 379.22L214.739 375.99L214.692 372.74L214.643 369.48L214.594 366.2L214.545 362.91L214.494 359.6L214.443 356.28L214.391 352.94L214.339 349.58L214.285 346.22L214.231 342.83L214.176 339.44L214.121 336.02L214.065 332.6L214.008 329.15L213.95 325.7L213.892 322.22L213.832 318.74L213.773 315.23L213.712 311.72L213.651 308.18L213.589 304.64L213.527 301.07L213.463 297.5L213.399 293.9L213.335 290.3L213.269 286.68L213.203 283.04L213.137 279.39L213.069 275.72L213.001 272.04L212.933 268.34L212.863 264.63L212.793 260.9L212.723 257.16L212.651 253.4L212.579 249.63L212.507 245.84L212.433 242.04L212.359 238.23L212.285 234.4L212.209 230.55L212.134 226.69L212.057 222.81L211.98 218.92L211.902 215.01L211.824 211.09L211.745 207.16L211.665 203.2L211.585 199.24L211.504 195.26L211.422 191.26L211.34 187.25L211.257 183.22L211.174 179.18L211.09 175.13L211.005 171.06L210.92 166.97L210.834 162.87L210.748 158.75L210.661 154.62L210.573 150.48L210.485 146.32L210.396 142.14L210.307 137.95L210.217 133.74L210.126 129.52L210.035 125.29L209.944 121.04L209.851 116.77L209.758 112.49L209.665 108.2L209.571 103.89L209.477 99.56L209.382 95.22L209.286 90.87L209.19 86.5L209.093 82.11L208.996 77.71L208.898 73.3L208.8 68.87L208.701 64.42L208.601 59.96L205.102 60.04L205.201 64.5L205.3 68.94L205.399 73.37L205.497 77.79L205.594 82.19L205.691 86.57L205.787 90.94L205.882 95.3L205.977 99.64L206.072 103.96L206.166 108.27L206.259 112.57L206.352 116.85L206.444 121.11L206.536 125.36L206.627 129.6L206.718 133.82L206.808 138.02L206.897 142.21L206.986 146.39L207.074 150.55L207.161 154.7L207.248 158.83L207.335 162.94L207.421 167.04L207.506 171.13L207.59 175.2L207.674 179.25L207.758 183.3L207.841 187.32L207.923 191.33L208.004 195.33L208.085 199.31L208.166 203.27L208.245 207.23L208.324 211.16L208.403 215.08L208.48 218.99L208.558 222.88L208.634 226.76L208.71 230.62L208.785 234.46L208.86 238.29L208.934 242.11L209.007 245.91L209.08 249.7L209.152 253.47L209.223 257.23L209.294 260.97L209.364 264.69L209.433 268.41L209.502 272.1L209.57 275.78L209.637 279.45L209.704 283.1L209.77 286.74L209.835 290.36L209.9 293.97L209.964 297.56L210.027 301.14L210.09 304.7L210.151 308.24L210.213 311.78L210.273 315.29L210.333 318.8L210.392 322.28L210.45 325.75L210.508 329.21L210.565 332.65L210.621 336.08L210.677 339.49L210.732 342.89L210.786 346.27L210.839 349.64L210.892 352.99L210.944 356.33L210.995 359.65L211.045 362.96L211.095 366.25L211.144 369.53L211.192 372.79L211.24 376.04L211.286 379.27L211.332 382.49L211.377 385.69L211.422 388.88L211.466 392.05L211.509 395.21L211.551 398.35L211.592 401.48L211.633 404.59L211.673 407.69L211.712 410.78L211.75 413.84L211.788 416.9L211.825 419.93L211.861 422.96L211.896 425.97L211.93 428.96L211.964 431.94L211.997 434.9L212.029 437.85L212.06 440.78L212.091 443.7L212.12 446.6L212.149 449.49L212.177 452.36L212.205 455.22L212.231 458.07L212.257 460.9L212.281 463.71L212.305 466.51L212.328 469.29L212.351 472.06L212.372 474.81L212.393 477.55L212.413 480.28L212.432 482.98L212.45 485.68L212.467 488.36L212.484 491.02L212.499 493.67L212.514 496.3L212.528 498.92L212.541 501.53L212.553 504.12L212.565 506.69L212.575 509.25L212.585 511.79L212.594 514.32L212.601 516.84L212.609 519.34L212.615 521.82L212.62 524.29L212.624 526.74L212.628 529.18L212.63 531.61L212.632 534.02L212.633 536.41L212.633 538.79L212.632 541.15L212.63 543.5L212.628 545.84L212.624 548.16L212.619 550.46L212.614 552.75L212.608 555.03L212.6 557.29L212.592 559.53L212.583 561.76L212.573 563.97L212.562 566.17L212.55 568.36L212.537 570.53L212.524 572.68L212.509 574.82L212.493 576.95L212.477 579.06L212.459 581.15L212.441 583.23L212.422 585.3L212.401 587.35L212.38 589.38L212.358 591.4L212.335 593.41L212.31 595.4L212.285 597.37L212.259 599.33L212.232 601.28L212.204 603.21L212.175 605.12L212.145 607.02L212.115 608.91L212.083 610.78L212.05 612.63L212.016 614.47L211.981 616.3L211.945 618.11L211.908 619.9L211.871 621.69L211.832 623.45L211.792 625.2L211.751 626.94L211.709 628.66L211.667 630.36L211.623 632.05L211.578 633.73L211.532 635.39L211.485 637.03L211.437 638.66L211.389 640.28L211.339 641.88L211.288 643.46L211.236 645.03L211.183 646.59L211.129 648.13L211.074 649.66L211.018 651.17L210.96 652.66L210.902 654.14L210.843 655.61L210.783 657.06L210.721 658.49L210.659 659.91L210.596 661.32L210.531 662.71L210.465 664.08L210.399 665.45L210.331 666.79L210.262 668.12L210.193 669.44L210.122 670.74L210.05 672.02L209.977 673.29L209.903 674.55L209.828 675.79L209.751 677.01L209.674 678.22L209.596 679.42L209.516 680.6L209.435 681.76L209.354 682.91L209.271 684.05L209.187 685.17L209.102 686.27L209.016 687.36L208.929 688.44L208.841 689.5L208.751 690.54L208.661 691.57L208.569 692.58L208.477 693.58L208.383 694.57L208.288 695.54L208.192 696.49L208.095 697.43L207.996 698.35L207.897 699.26L207.797 700.15L207.695 701.03L207.593 701.9L207.489 702.74L207.384 703.58L207.278 704.39L207.171 705.2L207.063 705.98L206.953 706.75L206.843 707.51L206.731 708.25L206.618 708.98L206.504 709.69L206.389 710.38L206.273 711.06L206.155 711.73L206.036 712.38L205.915 713.01L205.794 713.63L205.671 714.23L205.547 714.82L205.421 715.39L205.294 715.94L205.166 716.48L205.037 717.01L204.906 717.51L204.774 718.01L204.641 718.48L204.507 718.94L204.371 719.39L204.235 719.81L204.097 720.23L203.959 720.62L203.819 721L203.679 721.36L203.538 721.71L203.397 722.04L203.255 722.35L203.113 722.64L202.971 722.92L202.83 723.18L202.69 723.42L202.55 723.65L202.413 723.85L202.277 724.04L202.144 724.22L202.014 724.37L201.888 724.51L201.767 724.63L201.65 724.74L201.539 724.83L201.434 724.9L201.336 724.97L201.243 725.02L201.155 725.06L201.073 725.09L200.993 725.11L200.915 725.13L200.836 725.14L200.755 725.15L200.67 725.15L200.578 725.14L200.477 725.13L200.368 725.11L200.249 725.08L200.119 725.03L199.979 724.98L199.829 724.91L199.669 724.83L199.499 724.73L199.32 724.62L199.133 724.49L198.937 724.35L198.734 724.19L198.524 724.02L198.307 723.82L198.084 723.62L197.855 723.39L197.62 723.15L197.379 722.89L197.133 722.62L196.882 722.33L196.627 722.02L196.366 721.7L196.101 721.36L195.831 721.01L195.557 720.64L195.278 720.26L194.995 719.85L194.708 719.44L194.416 719L194.119 718.55L193.818 718.09L193.511 717.61L193.2 717.11L192.883 716.6L192.562 716.07L192.235 715.52L191.902 714.96L191.564 714.39L191.22 713.8L190.87 713.19L190.515 712.57L190.153 711.93L189.784 711.27L189.409 710.61L189.028 709.92L188.64 709.22L188.244 708.51L187.842 707.78L187.432 707.03L187.015 706.27L186.591 705.5L186.158 704.7L185.718 703.9L185.27 703.08L184.813 702.24L184.348 701.39L183.874 700.52L183.392 699.64L182.901 698.74L182.4 697.83L181.891 696.9L181.372 695.96L180.843 695L180.305 694.03L179.757 693.04L179.199 692.03L178.63 691.02L178.052 689.98L177.462 688.93L176.862 687.87L176.251 686.79L175.629 685.7L174.995 684.59L174.351 683.46L173.694 682.32L173.026 681.17L172.346 680L171.654 678.82L170.949 677.62L170.232 676.4L169.503 675.17L168.761 673.93L168.005 672.67L167.237 671.4L166.455 670.11L165.66 668.8L164.852 667.48L164.029 666.15L163.193 664.8L162.342 663.44L161.477 662.06L160.598 660.66L159.704 659.25L158.795 657.83L157.871 656.39L156.932 654.93L155.978 653.47L155.008 651.98L154.023 650.48L153.021 648.97L152.004 647.44L150.971 645.89L149.921 644.34L148.854 642.76L147.771 641.17L146.671 639.57L145.554 637.95L144.42 636.32L143.269 634.67L142.1 633L140.913 631.32L139.708 629.63L138.486 627.92L137.245 626.2L135.985 624.46L134.707 622.71L133.411 620.94L132.095 619.15L130.762 617.36Z"/>
</g></g>
<g fill="#0000ff">
<rect x="392.95" y="846.86" width="21.02" height="1.25"/>
<rect x="1932.72" y="846.86" width="21.02" height="1.25"/>
<rect x="392.95" y="804.04" width="21.02" height="1.25"/>
<rect x="1932.72" y="804.04" width="21.02" height="1.25"/>
<rect x="392.95" y="761.24" width="35.23" height="1.25"/>
<rect x="1918.53" y="761.24" width="35.23" height="1.25"/>
<rect x="392.95" y="718.43" width="21.02" height="1.25"/>
<rect x="1932.72" y="718.43" width="21.02" height="1.25"/>
<rect x="392.95" y="675.62" width="21.02" height="1.25"/>
<rect x="1932.72" y="675.62" width="21.02" height="1.25"/>
<rect x="392.95" y="632.8" width="21.02" height="1.25"/>
<rect x="1932.72" y="632.8" width="21.02" height="1.25"/>
<rect x="392.95" y="590" width="35.23" height="1.25"/>
<rect x="1918.53" y="590" width="35.23" height="1.25"/>
<rect x="392.95" y="547.19" width="21.02" height="1.25"/>
<rect x="1932.72" y="547.19" width="21.02" height="1.25"/>
<rect x="392.95" y="504.38" width="21.02" height="1.25"/>
<rect x="1932.72" y="504.38" width="21.02" height="1.25"/>
<rect x="392.95" y="461.57" width="21.02" height="1.25"/>
<rect x="1932.72" y="461.57" width="21.02" height="1.25"/>
<rect x="392.95" y="418.75" width="35.23" height="1.25"/>
<rect x="1918.53" y="418.75" width="35.23" height="1.25"/>
<rect x="392.95" y="375.95" width="21.02" height="1.25"/>
<rect x="1932.72" y="375.95" width="21.02" height="1.25"/>
<rect x="392.95" y="333.13" width="21.02" height="1.25"/>
<rect x="1932.72" y="333.13" width="21.02" height="1.25"/>
<rect x="392.95" y="290.33" width="21.02" height="1.25"/>
<rect x="1932.72" y="290.33" width="21.02" height="1.25"/>
<rect x="392.95" y="247.52" width="35.23" height="1.25"/>
<rect x="1918.53" y="247.52" width="35.23" height="1.25"/>
<rect x="392.95" y="204.71" width="21.02" height="1.25"/>
<rect x="1932.72" y="204.71" width="21.02" height="1.25"/>
<rect x="392.95" y="161.9" width="21.02" height="1.25"/>
<rect x="1932.72" y="161.9" width="21.02" height="1.25"/>
<rect x="392.95" y="119.09" width="21.02" height="1.25"/>
<rect x="1932.72" y="119.09" width="21.02" height="1.25"/>
<rect x="392.95" y="76.28" width="35.23" height="1.25"/>
<rect x="1918.53" y="76.28" width="35.23" height="1.25"/>
<rect x="468.34" y="842.68" width="5.3" height="4.8"/>
<rect x="468.34" y="76.9" width="5.3" height="4.8"/>
<rect x="546.38" y="842.68" width="5.3" height="4.8"/>
<rect x="546.38" y="76.9" width="5.3" height="4.8"/>
<rect x="624.42" y="842.68" width="5.3" height="4.8"/>
<rect x="624.42" y="76.9" width="5.3" height="4.8"/>
<rect x="702.46" y="842.68" width="5.3" height="4.8"/>
<rect x="702.46" y="76.9" width="5.3" height="4.8"/>
<rect x="780.5" y="839.58" width="5.3" height="7.9"/>
<rect x="780.5" y="76.9" width="5.3" height="7.9"/>
<rect x="858.54" y="842.68" width="5.3" height="4.8"/>
<rect x="858.54" y="76.9" width="5.3" height="4.8"/>
<rect x="936.58" y="842.68" width="5.3" height="4.8"/>
<rect x="936.58" y="76.9" width="5.3" height="4.8"/>
<rect x="1014.62" y="842.68" width="5.3" height="4.8"/>
<rect x="1014.62" y="76.9" width="5.3" height="4.8"/>
<rect x="1092.66" y="842.68" width="5.3" height="4.8"/>
<rect x="1092.66" y="76.9" width="5.3" height="4.8"/>
<rect x="1170.7" y="839.58" width="5.3" height="7.9"/>
<rect x="1170.7" y="76.9" width="5.3" height="7.9"/>
<rect x="1248.74" y="842.68" width="5.3" height="4.8"/>
<rect x="1248.74" y="76.9" width="5.3" height="4.8"/>
<rect x="1326.78" y="842.68" width="5.3" height="4.8"/>
<rect x="1326.78" y="76.9" width="5.3" height="4.8"/>
<rect x="1404.82" y="842.68" width="5.3" height="4.8"/>
<rect x="1404.82" y="76.9" width="5.3" height="4.8"/>
<rect x="1482.86" y="842.68" width="5.3" height="4.8"/>
<rect x="1482.86" y="76.9" width="5.3" height="4.8"/>
<rect x="1560.9" y="839.58" width="5.3" height="7.9"/>
<rect x="1560.9" y="76.9" width="5.3" height="7.9"/>
<rect x="1638.94" y="842.68" width="5.3" height="4.8"/>
<rect x="1638.94" y="76.9" width="5.3" height="4.8"/>
<rect x="1716.98" y="842.68" width="5.3" height="4.8"/>
<rect x="1716.98" y="76.9" width="5.3" height="4.8"/>
<rect x="1795.02" y="842.68" width="5.3" height="4.8"/>
<rect x="1795.02" y="76.9" width="5.3" height="4.8"/>
<rect x="1873.06" y="842.68" width="5.3" height="4.8"/>
<rect x="1873.06" y="76.9" width="5.3" height="4.8"/>
<rect x="390.32" y="76.18" width="5.25" height="772.03"/>
<rect x="1951.12" y="76.18" width="5.25" height="772.03"/>
<rect x="392.95" y="76.18" width="1560.8" height="1.45"/>
<rect x="392.95" y="846.75" width="1560.8" height="1.45"/>
</g>
<g transform="scale(4.457,1)" font-family="'Liberation Sans', sans-serif" font-size="26.7" style="font-kerning:none;text-rendering:geometricPrecision">
<text fill="#0000ff"><tspan x="51.641" y="86.65" font-size="26.7" textLength="15.229" lengthAdjust="spacingAndGlyphs">2</tspan><tspan x="66.926" y="86.65" font-size="26.7" textLength="14.409" lengthAdjust="spacingAndGlyphs">0</tspan></text>
<text fill="#0000ff"><tspan x="52.252" y="257.89" font-size="26.7" textLength="16.235" lengthAdjust="spacingAndGlyphs">1</tspan><tspan x="66.785" y="257.89" font-size="26.7" textLength="14.759" lengthAdjust="spacingAndGlyphs">8</tspan></text>
<text fill="#0000ff"><tspan x="52.252" y="429.13" font-size="26.7" textLength="16.235" lengthAdjust="spacingAndGlyphs">1</tspan><tspan x="66.493" y="429.13" font-size="26.7" textLength="15.09" lengthAdjust="spacingAndGlyphs">6</tspan></text>
<text fill="#0000ff"><tspan x="52.252" y="600.37" font-size="26.7" textLength="16.235" lengthAdjust="spacingAndGlyphs">1</tspan><tspan x="66.485" y="600.37" font-size="26.7" textLength="14.561" lengthAdjust="spacingAndGlyphs">4</tspan></text>
<text fill="#0000ff"><tspan x="52.252" y="771.61" font-size="26.7" textLength="16.235" lengthAdjust="spacingAndGlyphs">1</tspan><tspan x="66.287" y="771.61" font-size="26.7" textLength="15.284" lengthAdjust="spacingAndGlyphs">2</tspan></text>
<text fill="#0000ff"><tspan x="80.809" y="879.85" font-size="26.7" textLength="14.487" lengthAdjust="spacingAndGlyphs">0</tspan></text>
<text fill="#0000ff"><tspan x="168.352" y="879.85" font-size="26.7" textLength="16.03" lengthAdjust="spacingAndGlyphs">1</tspan></text>
<text fill="#0000ff"><tspan x="255.335" y="879.85" font-size="26.7" textLength="15.311" lengthAdjust="spacingAndGlyphs">2</tspan></text>
<text fill="#0000ff"><tspan x="343.564" y="879.85" font-size="26.7" textLength="14.528" lengthAdjust="spacingAndGlyphs">3</tspan></text>
<text fill="#0000ff"><tspan x="430.66" y="879.85" font-size="26.7" textLength="14.412" lengthAdjust="spacingAndGlyphs">4</tspan></text>
<text fill="#0000ff"><tspan x="255.164" y="924.7" font-size="26.9" textLength="16.07" lengthAdjust="spacingAndGlyphs">T</tspan></text>
<text fill="#0000ff" transform="rotate(-90)"><tspan x="-606.161" y="32.533" font-size="27.1" textLength="15.102" lengthAdjust="spacingAndGlyphs" font-style="italic">F</tspan><tspan x="-590.938" y="37.828" font-size="20.25" textLength="11.475" lengthAdjust="spacingAndGlyphs">2</tspan><tspan x="-578.946" y="33.722" font-size="24.4" textLength="14.905" lengthAdjust="spacingAndGlyphs">=</tspan><tspan x="-563.774" y="32.533" font-size="27.2" textLength="16.86" lengthAdjust="spacingAndGlyphs">E</tspan><tspan x="-546.728" y="35.046" font-size="28" textLength="14.544" lengthAdjust="spacingAndGlyphs">−</tspan><tspan x="-531.772" y="32.533" font-size="27.2" textLength="15.556" lengthAdjust="spacingAndGlyphs">T</tspan><tspan x="-515.836" y="32.578" font-size="27" textLength="16.684" lengthAdjust="spacingAndGlyphs">S</tspan><tspan x="-498.728" y="35.046" font-size="28" textLength="14.544" lengthAdjust="spacingAndGlyphs">−</tspan><tspan x="-484.445" y="33.049" font-size="28.6" textLength="21.577" lengthAdjust="spacingAndGlyphs">Φ</tspan><tspan x="-477.443" y="24.007" font-size="22.85" textLength="7.609" lengthAdjust="spacingAndGlyphs">˜</tspan><tspan x="-463.742" y="37.828" font-size="19.7" textLength="11.023" lengthAdjust="spacingAndGlyphs">e</tspan><tspan x="-451.421" y="32.578" font-size="27.3" textLength="20.055" lengthAdjust="spacingAndGlyphs">Q</tspan><tspan x="-445.943" y="24.007" font-size="22.85" textLength="7.609" lengthAdjust="spacingAndGlyphs">˜</tspan><tspan x="-432.678" y="37.828" font-size="19.7" textLength="11.497" lengthAdjust="spacingAndGlyphs">e</tspan><tspan x="-420.338" y="35.046" font-size="28" textLength="14.665" lengthAdjust="spacingAndGlyphs">−</tspan><tspan x="-404.334" y="32.69" font-size="26.1" textLength="14.768" lengthAdjust="spacingAndGlyphs" font-style="italic">μ</tspan><tspan x="-390.899" y="32.578" font-size="27" textLength="18.473" lengthAdjust="spacingAndGlyphs">C</tspan><tspan x="-372.066" y="34.171" font-size="25.3" textLength="15.145" lengthAdjust="spacingAndGlyphs">+</tspan><tspan x="-357.077" y="32.488" font-size="25.8" textLength="14.469" lengthAdjust="spacingAndGlyphs">p</tspan><tspan x="-344.887" y="32.757" font-size="29" textLength="23.229" lengthAdjust="spacingAndGlyphs" font-style="italic" font-family="'Liberation Serif', serif">V</tspan></text>
<text fill="#666666"><tspan x="123.153" y="43" font-size="26.7" textLength="15.587" lengthAdjust="spacingAndGlyphs" font-weight="bold">F</tspan><tspan x="138.951" y="43" font-size="26.7" textLength="16.131" lengthAdjust="spacingAndGlyphs" font-weight="bold">o</tspan><tspan x="154.894" y="43" font-size="26.7" textLength="10.911" lengthAdjust="spacingAndGlyphs" font-weight="bold">r</tspan><tspan> </tspan><tspan x="174.234" y="43" font-size="23.7" textLength="14.516" lengthAdjust="spacingAndGlyphs" font-weight="bold" font-style="italic">μ</tspan><tspan x="188.613" y="44.45" font-size="22.2" textLength="14.057" lengthAdjust="spacingAndGlyphs" font-weight="bold">=</tspan><tspan x="202.649" y="45.9" font-size="27" textLength="14.188" lengthAdjust="spacingAndGlyphs" font-weight="bold">−</tspan><tspan x="216.607" y="43.2" font-size="27.4" textLength="14.696" lengthAdjust="spacingAndGlyphs" font-weight="bold">2</tspan><tspan x="231.318" y="42.6" font-size="27.5" textLength="7.364" lengthAdjust="spacingAndGlyphs" font-weight="bold">,</tspan><tspan> </tspan><tspan x="247.002" y="43.2" font-size="26.8" textLength="20.063" lengthAdjust="spacingAndGlyphs" font-weight="bold" font-style="italic">Q</tspan><tspan x="252.213" y="38.66" font-size="30.75" textLength="7.808" lengthAdjust="spacingAndGlyphs" font-weight="bold">˜</tspan><tspan x="267.128" y="47.85" font-size="18.8" textLength="17.63" lengthAdjust="spacingAndGlyphs" font-weight="bold" font-style="italic">m</tspan><tspan x="285.333" y="44.45" font-size="22.2" textLength="14.11" lengthAdjust="spacingAndGlyphs" font-weight="bold">=</tspan><tspan x="299.431" y="43" font-size="27.2" textLength="15.399" lengthAdjust="spacingAndGlyphs" font-weight="bold">1</tspan><tspan x="313.687" y="42.6" font-size="27.5" textLength="7.712" lengthAdjust="spacingAndGlyphs" font-weight="bold">,</tspan><tspan x="321.578" y="43.6" font-size="25.8" textLength="19.319" lengthAdjust="spacingAndGlyphs" font-weight="bold">Φ</tspan><tspan x="326.721" y="40.76" font-size="30.75" textLength="7.612" lengthAdjust="spacingAndGlyphs" font-weight="bold">˜</tspan><tspan x="340.462" y="48" font-size="19.2" textLength="11.369" lengthAdjust="spacingAndGlyphs" font-weight="bold">e</tspan><tspan x="352.194" y="44.45" font-size="22.2" textLength="14.11" lengthAdjust="spacingAndGlyphs" font-weight="bold">=</tspan><tspan x="366.261" y="43.4" font-size="27.4" textLength="14.431" lengthAdjust="spacingAndGlyphs" font-weight="bold">0</tspan><tspan x="381.021" y="43" font-size="26.7" textLength="7.245" lengthAdjust="spacingAndGlyphs" font-weight="bold">.</tspan><tspan x="388.377" y="43" font-size="27.2" textLength="15.523" lengthAdjust="spacingAndGlyphs" font-weight="bold">1</tspan></text>
<text fill="#000000"><tspan x="348.592" y="167.6" font-size="26.7" textLength="14.762" lengthAdjust="spacingAndGlyphs">p</tspan><tspan x="363.328" y="169.7" font-size="26.7" textLength="15.157" lengthAdjust="spacingAndGlyphs">=</tspan><tspan x="378.52" y="167.6" font-size="26.7" textLength="16.132" lengthAdjust="spacingAndGlyphs">1</tspan><tspan x="393.109" y="167.6" font-size="26.7" textLength="14.679" lengthAdjust="spacingAndGlyphs">8</tspan></text>
<text fill="#000000"><tspan x="348.592" y="213.9" font-size="26.7" textLength="14.762" lengthAdjust="spacingAndGlyphs">p</tspan><tspan x="363.328" y="216" font-size="26.7" textLength="15.157" lengthAdjust="spacingAndGlyphs">=</tspan><tspan x="378.098" y="213.9" font-size="26.7" textLength="15.174" lengthAdjust="spacingAndGlyphs">2</tspan><tspan x="393.296" y="213.9" font-size="26.7" textLength="15.927" lengthAdjust="spacingAndGlyphs">1</tspan></text>
<text fill="#000000"><tspan x="348.592" y="260.2" font-size="26.7" textLength="14.762" lengthAdjust="spacingAndGlyphs">p</tspan><tspan x="363.328" y="262.3" font-size="26.7" textLength="15.157" lengthAdjust="spacingAndGlyphs">=</tspan><tspan x="378.098" y="260.2" font-size="26.7" textLength="15.174" lengthAdjust="spacingAndGlyphs">2</tspan><tspan x="392.969" y="260.2" font-size="26.7" textLength="14.338" lengthAdjust="spacingAndGlyphs">4</tspan></text>
<text fill="#000000"><tspan x="348.592" y="306.6" font-size="26.7" textLength="14.762" lengthAdjust="spacingAndGlyphs">p</tspan><tspan x="363.328" y="308.7" font-size="26.7" textLength="15.157" lengthAdjust="spacingAndGlyphs">=</tspan><tspan x="378.098" y="306.6" font-size="26.7" textLength="15.174" lengthAdjust="spacingAndGlyphs">2</tspan><tspan x="393.109" y="306.6" font-size="26.7" textLength="14.878" lengthAdjust="spacingAndGlyphs">7</tspan></text>
</g>
<g fill="#ffffff"><rect x="241.6" y="255.3" width="24.01" height="3.39"/><rect x="277.1" y="255.3" width="22.99" height="3.39"/><rect x="241.6" y="426.54" width="24.01" height="3.39"/><rect x="277.1" y="426.54" width="22.99" height="3.39"/><rect x="241.6" y="597.78" width="24.01" height="3.39"/><rect x="277.1" y="597.78" width="22.99" height="3.39"/><rect x="241.6" y="769.02" width="24.01" height="3.39"/><rect x="277.1" y="769.02" width="22.99" height="3.39"/><rect x="758.93" y="877.26" width="23.72" height="3.39"/><rect x="794" y="877.26" width="22.71" height="3.39"/><rect x="1341.14" y="39.62" width="22.23" height="4.18"/><rect x="1380.3" y="39.62" width="20.66" height="4.18"/><rect x="1737.63" y="39.62" width="22.4" height="4.18"/><rect x="1777.1" y="39.62" width="20.82" height="4.18"/><rect x="1695.71" y="165.01" width="23.86" height="3.39"/><rect x="1731" y="165.01" width="22.85" height="3.39"/><rect x="1761.44" y="211.31" width="23.57" height="3.39"/><rect x="1796.3" y="211.31" width="22.58" height="3.39"/></g>
<g fill="#000000">
<rect x="499.2" y="2" width="1348.2" height="2.5"/>
<rect x="499.2" y="57.5" width="1348.2" height="2.5"/>
<rect x="499.2" y="2" width="9.8" height="58"/>
<rect x="1837.6" y="2" width="9.8" height="58"/>
<rect x="1227.1" y="126.3" width="655.7" height="3.2"/>
<rect x="1227.1" y="333" width="655.7" height="3.2"/>
<rect x="1227.1" y="126.3" width="14" height="209.9"/>
<rect x="1868.8" y="126.3" width="14" height="209.9"/>
</g>
<rect x="1299.4" y="157.05" width="195.9" height="3.5" fill="#5e81b5"/>
<rect x="1299.4" y="203.35" width="195.9" height="3.5" fill="#e19c24"/>
<rect x="1299.4" y="249.65" width="195.9" height="3.5" fill="#8fb032"/>
<rect x="1299.4" y="296.05" width="195.9" height="3.5" fill="#eb6235"/>
</svg>
</body>
</html>
